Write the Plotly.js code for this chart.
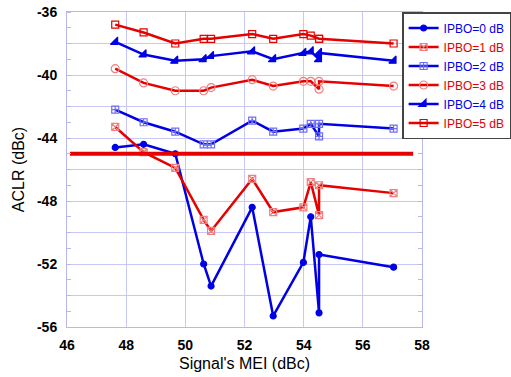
<!DOCTYPE html>
<html><head><meta charset="utf-8">
<script src="https://cdn.plot.ly/plotly-3.0.1.min.js"></script>
<style>html,body{margin:0;padding:0;background:#fff}#chart{width:511px;height:377px}</style>
</head><body><div id="chart"></div>
<script>
const mei = [47.63, 48.59, 49.66, 50.62, 50.87, 52.26, 52.97, 53.99, 54.24, 54.52, 54.52, 57.04];
const ipbo0 = [-44.6, -44.4, -45.0, -52.0, -53.4, -48.4, -55.3, -51.9, -49.0, -55.1, -51.4, -52.2];
const ipbo1 = [-43.3, -44.9, -45.9, -49.2, -49.9, -46.6, -48.7, -48.4, -46.8, -48.9, -47.0, -47.5];
const ipbo2 = [-42.2, -43.0, -43.6, -44.4, -44.4, -42.9, -43.6, -43.4, -43.1, -43.9, -43.1, -43.4];
const ipbo3 = [-39.6, -40.5, -41.0, -41.0, -40.8, -40.3, -40.7, -40.4, -40.4, -40.9, -40.4, -40.7];
const ipbo4 = [-37.9, -38.7, -39.1, -39.0, -38.8, -38.5, -39.0, -38.6, -38.5, -39.0, -38.6, -39.1];
const ipbo5 = [-36.8, -37.3, -38.0, -37.7, -37.7, -37.4, -37.7, -37.4, -37.5, -37.7, -37.7, -38.0];
const limitX = [46.1, 57.7];
const limitY = [-45, -45];
const seriesNames = ['IPBO=0 dB', 'IPBO=1 dB', 'IPBO=2 dB', 'IPBO=3 dB', 'IPBO=4 dB', 'IPBO=5 dB'];
const yTickVals = [-56, -54, -52, -50, -48, -46, -44, -42, -40, -38, -36];
const yTickText = ['-56', '', '-52', '', '-48', '', '-44', '', '-40', '', '-36'];
const xTickVals = [46, 48, 50, 52, 54, 56, 58];

const BLUE = '#0000e6', RED = '#e60000';
const styles = [
  {c: BLUE, sym: 'circle', mc: BLUE, ms: 6},
  {c: RED, sym: 'square-x-open', mc: '#f08080', ms: 7},
  {c: BLUE, sym: 'square-cross-open', mc: '#6f6ff5', ms: 7},
  {c: RED, sym: 'circle-open', mc: '#f08080', ms: 8},
  {c: BLUE, sym: 'triangle-se', mc: BLUE, ms: 8},
  {c: RED, sym: 'square-open', mc: RED, ms: 7}
];
const allY = [ipbo0, ipbo1, ipbo2, ipbo3, ipbo4, ipbo5];
const traces = allY.map((ys, i) => ({
  x: mei, y: ys, type: 'scatter', mode: 'lines+markers',
  name: '<span style="color:' + styles[i].c + '">' + seriesNames[i] + '</span>',
  line: {color: styles[i].c, width: 2.5},
  marker: {symbol: styles[i].sym, color: styles[i].mc, size: styles[i].ms,
           line: {color: styles[i].mc, width: 1.2}}
}));
traces.push({x: limitX, y: limitY, type: 'scatter', mode: 'lines', showlegend: false,
  line: {color: RED, width: 4}, hoverinfo: 'skip'});

const GRID = '#c8c8f8';
const layout = {
  width: 511, height: 377,
  margin: {l: 67, r: 89, t: 12, b: 50, autoexpand: false},
  paper_bgcolor: '#fff', plot_bgcolor: '#fff',
  font: {family: 'Liberation Sans, Arial, sans-serif', color: '#000'},
  showlegend: true,
  legend: {x: 0.944, y: 1.0, xanchor: 'left', yanchor: 'top',
    bgcolor: '#fff', bordercolor: '#444', borderwidth: 1.5,
    font: {size: 12, family: 'Liberation Sans, Arial, sans-serif'},
    itemwidth: 30, tracegroupgap: 0},
  xaxis: {range: [46, 58], tickmode: 'array', tickvals: xTickVals,
    showgrid: true, gridcolor: GRID, gridwidth: 1,
    showline: true, linecolor: '#b8b8f0', linewidth: 1, mirror: true,
    ticks: '', zeroline: false, ticklabelstandoff: 5,
    tickfont: {size: 14, weight: 'bold'},
    title: {text: "Signal's MEI (dBc)", font: {size: 16}, standoff: 6}},
  yaxis: {range: [-56, -36], tickmode: 'array', tickvals: yTickVals, ticktext: yTickText,
    showgrid: true, gridcolor: GRID, gridwidth: 1,
    showline: true, linecolor: '#b8b8f0', linewidth: 1, mirror: 'ticks',
    ticks: '', zeroline: false, ticklabelstandoff: 6,
    tickfont: {size: 14, weight: 'bold'},
    minor: {dtick: 1, ticks: 'inside', ticklen: 4, tickcolor: '#b8b8f0', showgrid: false},
    title: {text: 'ACLR (dBc)', font: {size: 16}, standoff: 8}}
};
Plotly.newPlot('chart', traces, layout, {displayModeBar: false, staticPlot: true});
</script></body></html>
